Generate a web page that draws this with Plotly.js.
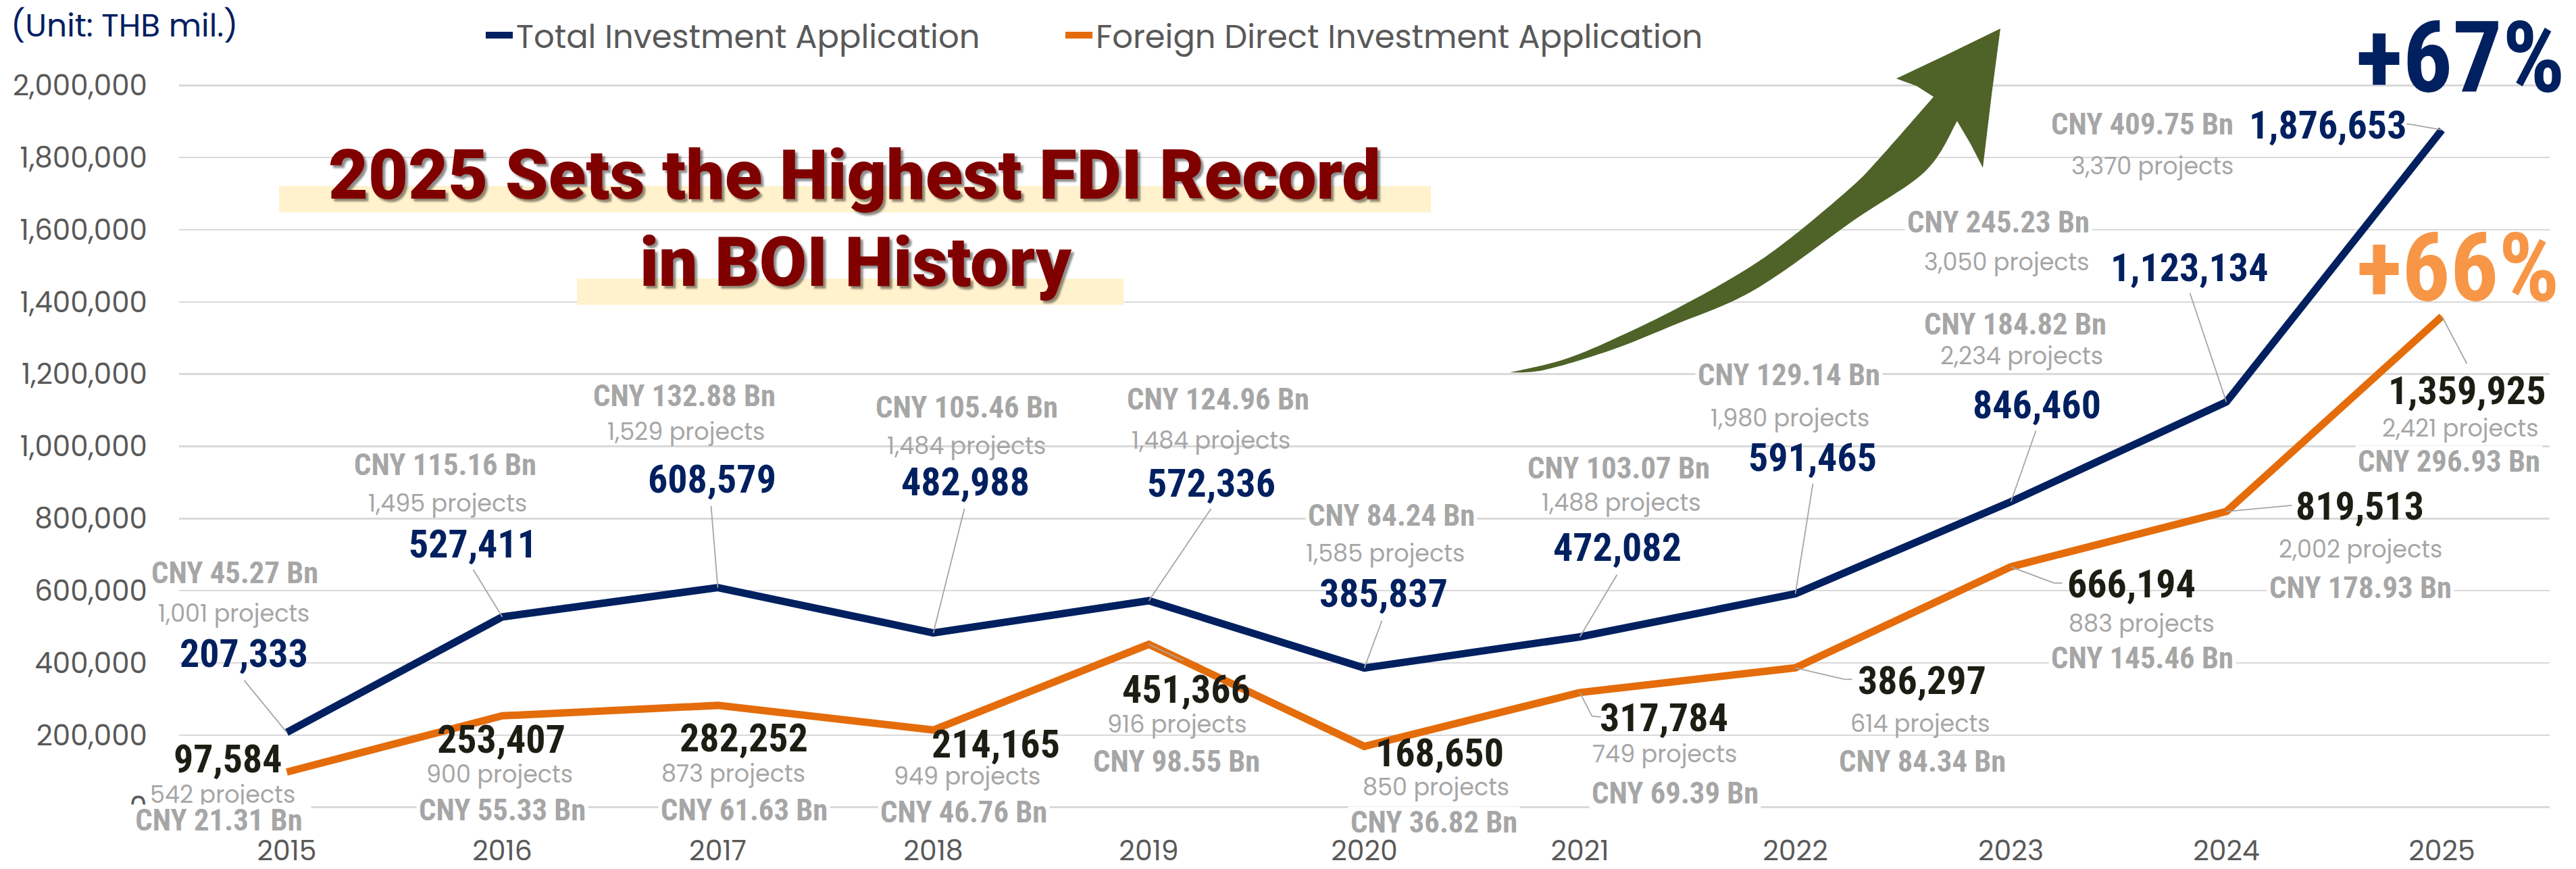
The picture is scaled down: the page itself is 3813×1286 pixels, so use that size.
<!DOCTYPE html>
<html><head><meta charset="utf-8">
<script src="https://cdn.plot.ly/plotly-3.0.1.min.js"></script>
<style>html,body{margin:0;padding:0;background:#fff;}</style>
</head><body>
<div id="chart" style="width:3813px;height:1286px;"></div>
<script>
// ---------------- DATA ----------------
const years = ['2015','2016','2017','2018','2019','2020','2021','2022','2023','2024','2025'];
const totalInvestment = [207333, 527411, 608579, 482988, 572336, 385837, 472082, 591465, 846460, 1123134, 1876653];
const fdiInvestment   = [97584, 253407, 282252, 214165, 451366, 168650, 317784, 386297, 666194, 819513, 1359925];
const totalProjects = [1001, 1495, 1529, 1484, 1484, 1585, 1488, 1980, 2234, 3050, 3370];
const fdiProjects   = [542, 900, 873, 949, 916, 850, 749, 614, 883, 2002, 2421];
const totalCnyBn = [45.27, 115.16, 132.88, 105.46, 124.96, 84.24, 103.07, 129.14, 184.82, 245.23, 409.75];
const fdiCnyBn   = [21.31, 55.33, 61.63, 46.76, 98.55, 36.82, 69.39, 84.34, 145.46, 178.93, 296.93];
const yTickVals = [0, 200000, 400000, 600000, 800000, 1000000, 1200000, 1400000, 1600000, 1800000, 2000000];
const seriesNames = ['Total Investment Application', 'Foreign Direct Investment Application'];
const growthTotal = '+67%';
const growthFdi = '+66%';
const unitText = '(Unit: THB mil.)';
const headline = ['2025 Sets the Highest FDI Record', 'in BOI History'];

// ---------------- LAYOUT / STYLE ----------------
const W = 3813, H = 1286;
const M = {l: 265, r: 39, t: 120.7, b: 86.4};
const PW = W - M.l - M.r, PH = H - M.t - M.b;
const PB = H - M.b;
const px2x = px => (px - M.l) / PW;
const px2y = py => (PB - py) / PH;

const NAVY = '#002060', ORANGE = '#E46C0A', DARK = '#1E1D14', GRAY = '#A6A6A6', AXIS = '#595959';
const SANS = 'Poppins, "Open Sans", sans-serif';

// ---- pick the narrowest bold face available for the condensed labels ----
const cv = document.createElement('canvas').getContext('2d');
function measure(fam, weight, size, stretch, txt) {
  cv.font = weight + ' ' + size + 'px ' + fam;
  try { cv.fontStretch = stretch || 'normal'; } catch (e) {}
  return cv.measureText(txt).width;
}
function exists(fam, weight) {
  const t = 'mmwwiiMMWW0123456789';
  return measure('"' + fam + '", monospace', weight, 100, null, t) !== measure('monospace', weight, 100, null, t) ||
         measure('"' + fam + '", serif', weight, 100, null, t) !== measure('serif', weight, 100, null, t);
}
const candidates = [
  {f: 'Liberation Sans Narrow'}, {f: 'DejaVu Sans Condensed'}, {f: 'Noto Sans ExtraCondensed'},
  {f: 'Noto Sans Condensed'}, {f: 'Noto Sans', s: 'extra-condensed'}, {f: 'Noto Sans', s: 'condensed'},
  {f: 'DejaVu Sans', s: 'condensed'}, {f: 'Roboto', s: 'condensed'}, {f: 'Liberation Sans'}
];
const SAMPLE = '608,579';
let best = null;
candidates.forEach(c => {
  if (!exists(c.f, 'bold')) return;
  const fam = '"' + c.f + '", sans-serif';
  const w = measure(fam, 'bold', 100, c.s, SAMPLE);
  if (c.s) {
    const w0 = measure(fam, 'bold', 100, null, SAMPLE);
    if (w > 0.95 * w0) return; // stretch not honoured
  }
  if (!best || w < best.w) best = {fam: fam, s: c.s, w: w};
});
if (!best) best = {fam: 'sans-serif', s: null, w: measure('sans-serif', 'bold', 100, null, SAMPLE)};
const NARROW = best.fam;
const narrowSize = (txt, targetW, maxSize) =>
  Math.min(maxSize, targetW * 100 / measure(best.fam, 'bold', 100, best.s, txt));
const wrapN = t => best.s ? '<span style="font-stretch:' + best.s + '">' + t + '</span>' : t;

const VAL_SIZE = narrowSize('608,579', 190, 66);
const CNY_SIZE = narrowSize('CNY 124.96 Bn', 270, 52);
const PCT_SIZE = narrowSize('+67%', 310, 168);

// label offsets (pixels from each point: [dx, dy up])
const totCnyOff  = [[-77,236],[-85,225],[-50,284],[49,334],[102,298],[40,226],[57,249],[-10,324],[6,263],[-338,266],[-444,8]];
const totProjOff = [[-79,176],[-81,168],[-47,231],[49,277],[92,237],[31,170],[61,199],[-8,260],[16,216],[-325,207],[-429,-53]];
const totValOff  = [[-64,117],[-44,108],[-9,161],[47,224],[92,174],[28,111],[55,132],[25,202],[38,144],[-55,199],[-169,7]];
const totLeader  = [[[-63,77]],[[-43,70]],[[-10,121]],[[46,184]],[[92,136]],[[26,70]],[[55,92]],[[26,163]],[[37,105]],[[-54,161]],[[-52,9]]];
const fdiValOff  = [[-87,20],[-2,-35],[38,-48],[92,-21],[55,-66],[111,-9],[124,-37],[187,-19],[178,-25],[197,8],[37,-110]];
const fdiProjOff = [[-95,-32],[-4,-86],[23,-101],[50,-68],[42,-118],[106,-60],[125,-91],[185,-82],[193,-84],[198,-56],[27,-165]];
const fdiCnyOff  = [[-101,-71],[0,-140],[39,-155],[45,-122],[41,-173],[103,-112],[141,-149],[188,-139],[194,-135],[198,-113],[10,-215]];
const fdiLeader  = [null,null,null,null,[[51,-24]],null,[[18,-35],[31,-36]],[[73,-17],[84,-17]],[[64,-24],[76,-24]],[[97,9]],[[37,-70]]];
const fdiProjBg  = [true,false,false,false,false,false,false,false,false,false,false];
const fdiCnyBoxW = [266,null,null,null,null,null,null,null,null,null,null];

const fmt = v => v.toLocaleString('en-US');
const cny = v => 'CNY ' + v.toFixed(2) + ' Bn';

const annotations = [];
const shapes = [];

function label(i, val, text, off, font, box, boxW) {
  const a = {
    x: i, y: val, xref: 'x', yref: 'y', text: text, showarrow: false,
    xshift: off[0], yshift: off[1], xanchor: 'center', yanchor: 'middle',
    font: font, bgcolor: 'rgba(0,0,0,0)', borderpad: 0
  };
  if (box) { a.bgcolor = '#ffffff'; a.height = box; a.borderpad = 3; }
  if (boxW) a.width = boxW;
  annotations.push(a);
}
function leader(i, val, pts) {
  if (!pts) return;
  let prev = [0, 0];
  pts.forEach(p => {
    shapes.push({type: 'line', xref: 'x', yref: 'y', xsizemode: 'pixel', ysizemode: 'pixel',
      xanchor: i, yanchor: val, x0: prev[0], y0: prev[1], x1: p[0], y1: p[1],
      line: {color: GRAY, width: 1.8}, layer: 'above'});
    prev = p;
  });
}

const fVal = c => ({family: NARROW, size: VAL_SIZE, color: c, weight: 700});
const fCny = {family: NARROW, size: CNY_SIZE, color: GRAY, weight: 700};
const fProj = {family: SANS, size: 35, color: GRAY, weight: 400};
const CNY_BOX = Math.round(CNY_SIZE * 0.9);

years.forEach((yr, i) => {
  leader(i, totalInvestment[i], totLeader[i]);
  leader(i, fdiInvestment[i], fdiLeader[i]);
  label(i, totalInvestment[i], wrapN(cny(totalCnyBn[i])), totCnyOff[i], fCny, CNY_BOX);
  label(i, totalInvestment[i], fmt(totalProjects[i]) + ' projects', totProjOff[i], fProj);
  label(i, totalInvestment[i], wrapN(fmt(totalInvestment[i])), totValOff[i], fVal(NAVY));
  label(i, fdiInvestment[i], wrapN(fmt(fdiInvestment[i])), fdiValOff[i], fVal(DARK));
  label(i, fdiInvestment[i], fmt(fdiProjects[i]) + ' projects', fdiProjOff[i], fProj, fdiProjBg[i] ? 34 : 0);
  label(i, fdiInvestment[i], wrapN(cny(fdiCnyBn[i])), fdiCnyOff[i], fCny, CNY_BOX, fdiCnyBoxW[i]);
});

// headline highlight boxes
function rectPx(x0, y0, x1, y1, color) {
  shapes.push({type: 'rect', xref: 'paper', yref: 'paper', x0: px2x(x0), x1: px2x(x1), y0: px2y(y1), y1: px2y(y0),
    fillcolor: color, line: {width: 0}, layer: 'above'});
}
rectPx(413, 275, 2118, 314, '#FFF2CC');
rectPx(854, 412, 1663, 451, '#FFF2CC');

// green curved arrow (decoration), smooth outline through traced points
function P(p) { return px2x(p[0]).toFixed(5) + ',' + px2y(p[1]).toFixed(5); }
function smooth(pts) {
  let d = '';
  for (let i = 0; i < pts.length - 1; i++) {
    const p0 = pts[i - 1] || pts[i], p1 = pts[i], p2 = pts[i + 1], p3 = pts[i + 2] || pts[i + 1];
    const c1 = [p1[0] + (p2[0] - p0[0]) / 6, p1[1] + (p2[1] - p0[1]) / 6];
    const c2 = [p2[0] - (p3[0] - p1[0]) / 6, p2[1] - (p3[1] - p1[1]) / 6];
    d += ' C' + P(c1) + ' ' + P(c2) + ' ' + P(p2);
  }
  return d;
}
const upperEdge = [[2235,551],[2320,530],[2420,487],[2503,445],[2587,397],[2653,350],[2740,277],[2783,233],[2862,143]];
const headPts = [[2837,127],[2807,116],[2883,80],[2961,42],[2948,140],[2935,248],[2917,213],[2897,179]];
const lowerEdge = [[2897,179],[2850,253],[2745,325],[2637,403],[2570,443],[2487,477],[2387,517],[2287,547],[2235,551]];
const arrowPath = 'M' + P(upperEdge[0]) + smooth(upperEdge) +
  headPts.map(p => ' L' + P(p)).join('') + smooth(lowerEdge) + ' Z';
shapes.push({type: 'path', xref: 'paper', yref: 'paper', path: arrowPath, fillcolor: '#4F6228', line: {width: 0}, layer: 'above'});

function paperText(text, cx, cy, font, xanchor) {
  annotations.push({x: px2x(cx), y: px2y(cy), xref: 'paper', yref: 'paper', text: text,
    showarrow: false, xanchor: xanchor || 'center', yanchor: 'middle', font: font});
}
const TITLE_FONT = {family: 'Roboto, "Open Sans", sans-serif', size: 102, weight: 900,
  color: '#800000', shadow: '4px 4px 3px rgba(0,0,0,0.45)'};
paperText(headline[0], 1265, 259, TITLE_FONT);
paperText(headline[1], 1267, 388, TITLE_FONT);

paperText(unitText, 14, 37, {family: SANS, size: 47, color: NAVY}, 'left');
paperText(wrapN(growthTotal), 3642, 86, {family: NARROW, size: PCT_SIZE, color: NAVY, weight: 700});
paperText(wrapN(growthFdi), 3638, 397, {family: NARROW, size: PCT_SIZE * 0.97, color: '#F79646', weight: 700});

const traces = [
  {x: years, y: totalInvestment, name: seriesNames[0], type: 'scatter', mode: 'lines',
   line: {color: NAVY, width: 11}, hoverinfo: 'skip', legend: 'legend'},
  {x: years, y: fdiInvestment, name: seriesNames[1], type: 'scatter', mode: 'lines',
   line: {color: ORANGE, width: 11}, hoverinfo: 'skip', legend: 'legend2'}
];

const legendBase = {orientation: 'h', xanchor: 'left', y: px2y(52), yanchor: 'middle',
  font: {family: SANS, size: 48, color: AXIS}, bgcolor: 'rgba(0,0,0,0)', itemwidth: 40};

const layout = {
  width: W, height: H,
  margin: M,
  paper_bgcolor: '#ffffff', plot_bgcolor: '#ffffff',
  showlegend: true,
  legend: Object.assign({}, legendBase, {x: px2x(714)}),
  legend2: Object.assign({}, legendBase, {x: px2x(1572)}),
  xaxis: {type: 'category', range: [-0.5, 10.5], showgrid: false, zeroline: false, showline: false,
    ticks: '', tickfont: {family: SANS, size: 41, color: AXIS}, ticklabelstandoff: 31, fixedrange: true},
  yaxis: {range: [-10000, 2010000], tickvals: yTickVals, tickformat: ',d', showgrid: true,
    gridcolor: '#D9D9D9', gridwidth: 2.5, zeroline: false, showline: false, ticks: '',
    tickfont: {family: SANS, size: 42, color: AXIS}, ticklabelstandoff: 46, fixedrange: true},
  annotations: annotations,
  shapes: shapes
};

Plotly.newPlot('chart', traces, layout, {staticPlot: true, displayModeBar: false});
</script>
</body></html>
